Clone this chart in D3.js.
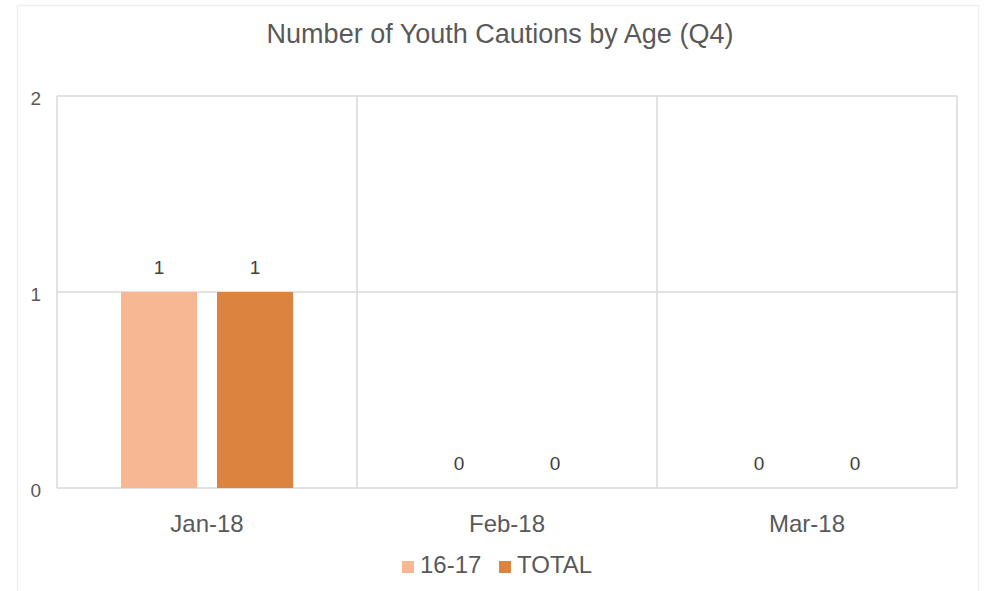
<!DOCTYPE html>
<html><head><meta charset="utf-8">
<script src="https://cdn.jsdelivr.net/npm/d3@7"></script>
<style>body{margin:0;background:#fff}svg{display:block}text{font-family:Arial,"Liberation Sans",sans-serif}</style>
</head><body><svg id="c" width="984" height="591"></svg>
<script>
const categories = ["Jan-18", "Feb-18", "Mar-18"];
const seriesNames = ["16-17", "TOTAL"];
const values1617 = [1, 0, 0];
const valuesTotal = [1, 0, 0];
const yTicks = [0, 1, 2];
const colors = ["#F8B793", "#DC833F"];
const title = "Number of Youth Cautions by Age (Q4)";

const svg = d3.select("#c");
svg.append("rect").attr("x", 17.5).attr("y", 5.5).attr("width", 961).attr("height", 600)
  .attr("fill", "#fff").attr("stroke", "#efefef").attr("stroke-width", 1.5);

const m = {left: 57, top: 96, right: 957, bottom: 488};
const x = d3.scaleBand().domain(categories).range([m.left, m.right]);
const x1 = d3.scaleBand().domain(seriesNames).range([0, x.bandwidth()]).paddingInner(0.2083).paddingOuter(0.6667);
const y = d3.scaleLinear().domain([0, 2]).range([m.bottom, m.top]);

const grid = svg.append("g");
grid.selectAll("line.h").data(yTicks).join("line")
  .attr("x1", m.left).attr("x2", m.right).attr("y1", d => y(d)).attr("y2", d => y(d))
  .attr("stroke", "#d9d9d9").attr("stroke-width", 1.5);
const bounds = categories.map(c => x(c)).concat([m.right]);
grid.selectAll("line.v").data(bounds).join("line")
  .attr("x1", d => d).attr("x2", d => d).attr("y1", m.top).attr("y2", m.bottom)
  .attr("stroke", "#d9d9d9").attr("stroke-width", 1.5);

svg.append("g").selectAll("text").data(yTicks).join("text")
  .attr("x", 41).attr("y", d => y(d) + 8.5).attr("text-anchor", "end")
  .attr("font-size", 19).attr("fill", "#595959").text(d => d);

const series = [values1617, valuesTotal];
const g = svg.append("g");
categories.forEach((c, i) => {
  seriesNames.forEach((s, j) => {
    const v = series[j][i];
    const bx = x(c) + x1(s);
    g.append("rect").attr("x", bx).attr("y", y(v)).attr("width", x1.bandwidth())
      .attr("height", y(0) - y(v)).attr("fill", colors[j]);
    g.append("text").attr("x", bx + x1.bandwidth() / 2).attr("y", y(v) - 18)
      .attr("text-anchor", "middle").attr("font-size", 19).attr("fill", "#404040").text(v);
  });
});

svg.append("g").selectAll("text").data(categories).join("text")
  .attr("x", d => x(d) + x.bandwidth() / 2).attr("y", 532).attr("text-anchor", "middle")
  .attr("font-size", 24).attr("fill", "#595959").text(d => d);

svg.append("text").attr("x", 500).attr("y", 43).attr("text-anchor", "middle")
  .attr("font-size", 27).attr("fill", "#595959").text(title);

const leg = svg.append("g");
const legX = [402, 499];
seriesNames.forEach((s, j) => {
  leg.append("rect").attr("x", legX[j]).attr("y", 561).attr("width", 12).attr("height", 12).attr("fill", colors[j]);
  leg.append("text").attr("x", legX[j] + 18).attr("y", 573).attr("font-size", 24).attr("fill", "#595959").text(s);
});
</script></body></html>
